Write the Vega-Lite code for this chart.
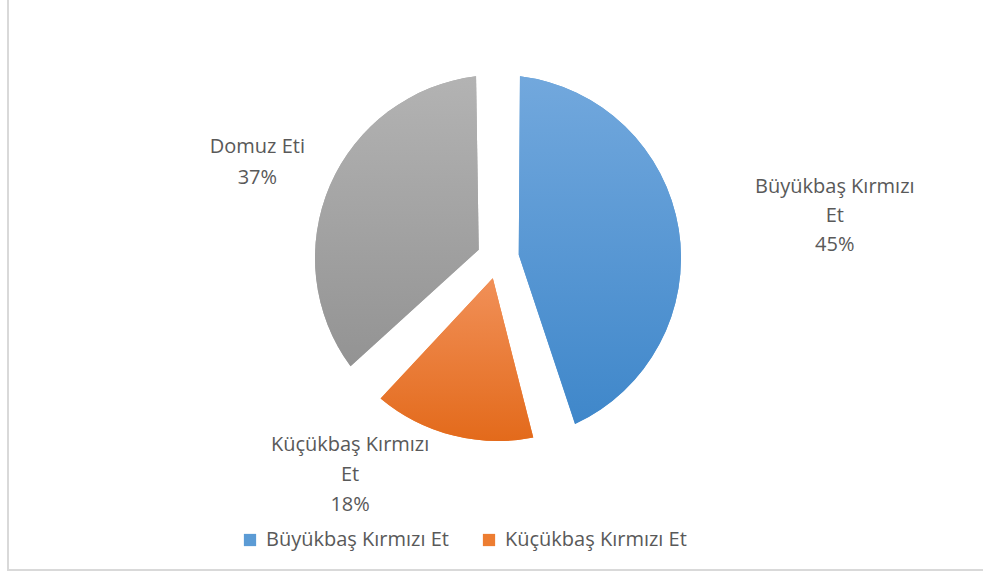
{
  "$schema": "https://vega.github.io/schema/vega-lite/v6.json",
  "width": 980,
  "height": 624,
  "autosize": {"type": "none"},
  "padding": {"left": 8, "top": -54, "right": -5, "bottom": 4},
  "background": "white",
  "data": {
    "values": [
      {"kategori": "Büyükbaş Kırmızı Et", "etiket": "Büyükbaş Kırmızı\nEt", "deger": 45, "sira": 1},
      {"kategori": "Küçükbaş Kırmızı Et", "etiket": "Küçükbaş Kırmızı\nEt", "deger": 18, "sira": 2},
      {"kategori": "Domuz Eti", "etiket": "Domuz Eti", "deger": 37, "sira": 3}
    ]
  },
  "transform": [
    {"calculate": "datum.etiket + '\\n' + datum.deger + '%'", "as": "yazi"}
  ],
  "layer": [
    {
      "mark": {"type": "rect", "fill": null, "stroke": "#D9D9D9", "strokeWidth": 2},
      "encoding": {}
    },
    {
      "mark": {"type": "arc", "radius": 183, "radius2": 21, "padAngle": 0.239},
      "encoding": {
        "theta": {"field": "deger", "type": "quantitative", "stack": true},
        "order": {"field": "sira", "type": "quantitative"},
        "color": {
          "field": "kategori",
          "type": "nominal",
          "scale": {
            "domain": ["Büyükbaş Kırmızı Et", "Küçükbaş Kırmızı Et", "Domuz Eti"],
            "range": ["#5B9BD5", "#ED7D31", "#A5A5A5"]
          },
          "legend": {
            "title": null,
            "orient": "none",
            "legendX": 232,
            "legendY": 584,
            "direction": "horizontal",
            "values": ["Büyükbaş Kırmızı Et", "Küçükbaş Kırmızı Et"],
            "symbolType": "square",
            "symbolSize": 150,
            "symbolStrokeWidth": 0,
            "labelFont": "Open Sans",
            "labelFontSize": 20,
            "labelColor": "#595959",
            "labelOffset": 6,
            "columnPadding": 30,
            "labelLimit": 400
          }
        }
      }
    },
    {
      "mark": {"type": "arc", "radius": 183, "radius2": 21, "padAngle": 0.239},
      "encoding": {
        "theta": {"field": "deger", "type": "quantitative", "stack": true},
        "order": {"field": "sira", "type": "quantitative"},
        "fill": {
          "condition": [
            {
              "test": "datum.kategori === 'Büyükbaş Kırmızı Et'",
              "value": {"gradient": "linear", "x1": 0, "y1": 0, "x2": 0, "y2": 1,
                "stops": [{"offset": 0, "color": "#72A8DD"}, {"offset": 1, "color": "#3F87CA"}]}
            },
            {
              "test": "datum.kategori === 'Küçükbaş Kırmızı Et'",
              "value": {"gradient": "linear", "x1": 0, "y1": 0, "x2": 0, "y2": 1,
                "stops": [{"offset": 0, "color": "#F19058"}, {"offset": 1, "color": "#E36A1B"}]}
            }
          ],
          "value": {"gradient": "linear", "x1": 0, "y1": 0, "x2": 0, "y2": 1,
            "stops": [{"offset": 0, "color": "#B3B3B3"}, {"offset": 1, "color": "#939393"}]}
        }
      }
    },
    {
      "mark": {"type": "text", "radius": 272, "dx": 9, "dy": -3, "font": "Open Sans", "fontSize": 20, "fill": "#595959", "lineBreak": "\n", "lineHeight": 31, "align": "center", "baseline": "middle"},
      "encoding": {
        "theta": {"field": "deger", "type": "quantitative", "stack": true},
        "order": {"field": "sira", "type": "quantitative"},
        "text": {"condition": {"test": "datum.kategori === 'Domuz Eti'", "field": "yazi", "type": "nominal"}, "value": ""}
      }
    },
    {
      "mark": {"type": "text", "radius": 341, "dx": 0, "dy": -18, "font": "Open Sans", "fontSize": 20, "fill": "#595959", "lineBreak": "\n", "lineHeight": 29, "align": "center", "baseline": "middle"},
      "encoding": {
        "theta": {"field": "deger", "type": "quantitative", "stack": true},
        "order": {"field": "sira", "type": "quantitative"},
        "text": {"condition": {"test": "datum.kategori === 'Büyükbaş Kırmızı Et'", "field": "yazi", "type": "nominal"}, "value": ""}
      }
    },
    {
      "mark": {"type": "text", "radius": 265, "dx": -82, "dy": -70, "font": "Open Sans", "fontSize": 20, "fill": "#595959", "lineBreak": "\n", "lineHeight": 30, "align": "center", "baseline": "middle"},
      "encoding": {
        "theta": {"field": "deger", "type": "quantitative", "stack": true},
        "order": {"field": "sira", "type": "quantitative"},
        "text": {"condition": {"test": "datum.kategori === 'Küçükbaş Kırmızı Et'", "field": "yazi", "type": "nominal"}, "value": ""}
      }
    }
  ]
}
